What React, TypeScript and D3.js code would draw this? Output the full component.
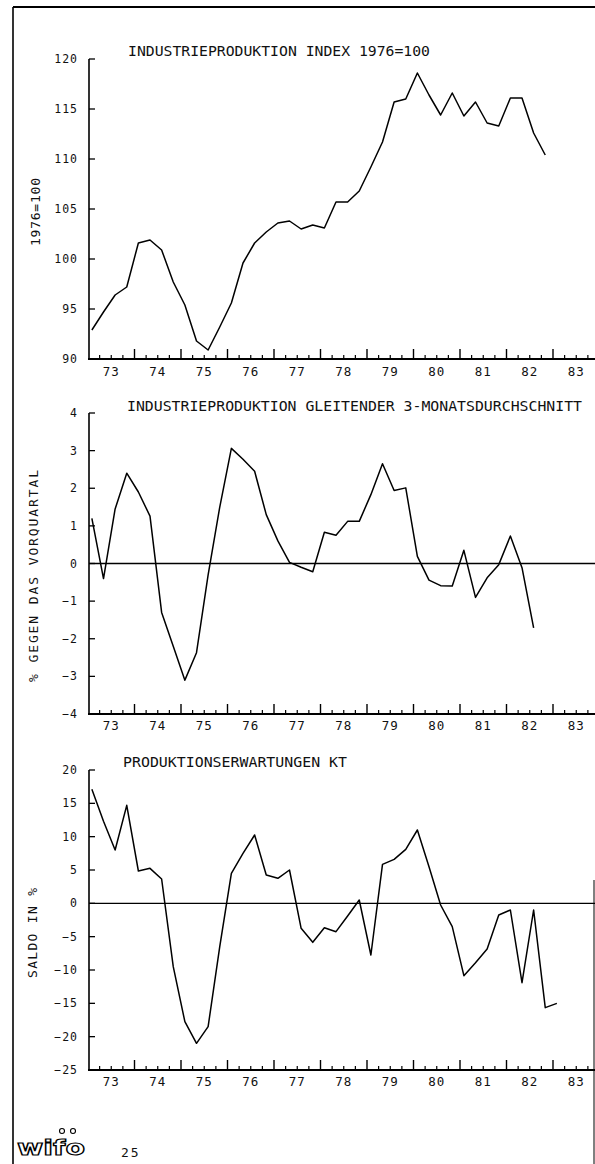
import React from "react";
import * as d3 from "d3";

// ---------- data ----------
const yearLabels = ["73", "74", "75", "76", "77", "78", "79", "80", "81", "82", "83"];

// Industrieproduktion Index 1976=100, quarterly from 1973 Q1
const indexValues = [
  92.9, 94.7, 96.4, 97.2, 101.6, 101.9, 100.9, 97.7, 95.4, 91.8,
  90.9, 93.2, 95.6, 99.6, 101.6, 102.7, 103.6, 103.8, 103.0, 103.4,
  103.1, 105.7, 105.7, 106.8, 109.2, 111.7, 115.7, 116.0, 118.6, 116.4,
  114.4, 116.6, 114.3, 115.7, 113.6, 113.3, 116.1, 116.1, 112.6, 110.4,
];

// gleitender 3-Monatsdurchschnitt, % gegen Vorquartal
const changeValues = [
  1.2, -0.4, 1.45, 2.4, 1.9, 1.26, -1.3, -2.2, -3.1, -2.37,
  -0.3, 1.5, 3.06, 2.77, 2.45, 1.3, 0.6, 0.03, -0.1, -0.22,
  0.83, 0.75, 1.12, 1.12, 1.83, 2.65, 1.94, 2.01, 0.19, -0.44,
  -0.59, -0.6, 0.35, -0.9, -0.38, -0.03, 0.73, -0.11, -1.71,
];

// Produktionserwartungen KT, Saldo in %
const expectValues = [
  17.1, 12.3, 8.0, 14.7, 4.85, 5.25, 3.65, -9.5, -17.75, -21.0,
  -18.5, -6.5, 4.5, 7.5, 10.25, 4.25, 3.75, 5.0, -3.75, -5.85,
  -3.65, -4.25, -1.9, 0.5, -7.75, 5.85, 6.6, 8.1, 11.0, 5.5,
  -0.25, -3.5, -10.85, -8.9, -6.85, -1.75, -1.0, -11.9, -1.0, -15.65,
  -15.0,
];

const indexTicks = [90, 95, 100, 105, 110, 115, 120];
const changeTicks = [-4, -3, -2, -1, 0, 1, 2, 3, 4];
const expectTicks = [-25, -20, -15, -10, -5, 0, 5, 10, 15, 20];

// ---------- layout ----------
const W = 595;
const H = 1164;
const FONT = "'DejaVu Sans Mono', 'Liberation Mono', monospace";
const AXIS_X = 89;
const RIGHT = 595;
const startYear = 1973;

const x = d3.scaleLinear().domain([startYear, startYear + 11]).range([88, 599.5]);

type PanelProps = {
  values: number[];
  ticks: number[];
  domain: [number, number];
  range: [number, number];
  title: string;
  titleX: number;
  titleX2: number;
  titleY: number;
  ylabel: string;
  ylabelX: number;
  ylabelY: number;
  ylabelLen: number;
  xLabelY: number;
  zeroLine: boolean;
};

function Panel(p: PanelProps) {
  const y = d3.scaleLinear().domain(p.domain).range(p.range);
  const bottom = p.range[0];
  const top = p.range[1];
  const line = d3
    .line<number>()
    .x((_, i) => x(startYear + (3 * i + 1) / 12))
    .y((v) => y(v));

  const yearTicks = d3.range(1, 11).map((k) => startYear + k);
  const quarterTicks = d3
    .range(1, 44)
    .filter((k) => k % 4 !== 0)
    .map((k) => startYear + k / 4);

  return (
    <g>
      <text
        x={p.titleX}
        y={p.titleY}
        fontFamily={FONT}
        fontSize={14.5}
        textLength={p.titleX2 - p.titleX}
        lengthAdjust="spacingAndGlyphs"
        fill="#111"
      >
        {p.title}
      </text>
      <text
        transform={`translate(${p.ylabelX},${p.ylabelY}) rotate(-90)`}
        textAnchor="middle"
        fontFamily={FONT}
        fontSize={13}
        textLength={p.ylabelLen}
        lengthAdjust="spacing"
        fill="#111"
      >
        {p.ylabel}
      </text>
      {/* y axis */}
      <line x1={AXIS_X} x2={AXIS_X} y1={top} y2={bottom} stroke="#000" strokeWidth={1.6} />
      {p.ticks.map((t) => (
        <g key={t}>
          <line x1={AXIS_X} x2={AXIS_X + 6} y1={y(t)} y2={y(t)} stroke="#000" strokeWidth={1.3} />
          <text
            x={78}
            y={y(t) + 4}
            textAnchor="end"
            fontFamily={FONT}
            fontSize={11.5}
            letterSpacing={1}
            fill="#111"
          >
            {t < 0 ? "\u2212" + Math.abs(t) : String(t)}
          </text>
        </g>
      ))}
      {/* zero line */}
      {p.zeroLine && (
        <line x1={AXIS_X} x2={RIGHT} y1={y(0)} y2={y(0)} stroke="#000" strokeWidth={1.3} />
      )}
      {/* x axis */}
      <line x1={88} x2={RIGHT} y1={bottom} y2={bottom} stroke="#000" strokeWidth={2} />
      {yearTicks.map((t) => (
        <line key={"y" + t} x1={x(t)} x2={x(t)} y1={bottom} y2={bottom - 10} stroke="#000" strokeWidth={1.4} />
      ))}
      {quarterTicks.map((t) => (
        <line key={"q" + t} x1={x(t)} x2={x(t)} y1={bottom} y2={bottom - 4} stroke="#000" strokeWidth={1.2} />
      ))}
      {yearLabels.map((l, i) => (
        <text
          key={l}
          x={x(startYear + i + 0.5)}
          y={p.xLabelY}
          textAnchor="middle"
          fontFamily={FONT}
          fontSize={12.5}
          letterSpacing={1}
          fill="#111"
        >
          {l}
        </text>
      ))}
      {/* data line */}
      <path d={line(p.values) || ""} fill="none" stroke="#000" strokeWidth={1.5} strokeLinejoin="round" />
    </g>
  );
}

export default function App() {
  return (
    <svg
      width={W}
      height={H}
      viewBox={`0 0 ${W} ${H}`}
      style={{ position: "absolute", left: 0, top: 0, display: "block", background: "#fff" }}
    >
      <rect x={0} y={0} width={W} height={H} fill="#fff" />
      {/* page frame */}
      <line x1={13} x2={595} y1={7} y2={7} stroke="#000" strokeWidth={2} />
      <line x1={13} x2={13} y1={7} y2={H} stroke="#000" strokeWidth={1.6} />
      <line x1={594} x2={594} y1={880} y2={H} stroke="#000" strokeWidth={1} />

      <Panel
        values={indexValues}
        ticks={indexTicks}
        domain={[90, 120]}
        range={[359, 59]}
        title="INDUSTRIEPRODUKTION INDEX 1976=100"
        titleX={128}
        titleX2={430}
        titleY={56}
        ylabel="1976=100"
        ylabelX={40}
        ylabelY={212}
        ylabelLen={68}
        xLabelY={376}
        zeroLine={false}
      />
      <Panel
        values={changeValues}
        ticks={changeTicks}
        domain={[-4, 4]}
        range={[714, 413]}
        title="INDUSTRIEPRODUKTION GLEITENDER 3-MONATSDURCHSCHNITT"
        titleX={127}
        titleX2={582}
        titleY={411}
        ylabel="% GEGEN DAS VORQUARTAL"
        ylabelX={38}
        ylabelY={576}
        ylabelLen={212}
        xLabelY={730}
        zeroLine={true}
      />
      <Panel
        values={expectValues}
        ticks={expectTicks}
        domain={[-25, 20]}
        range={[1070, 770]}
        title="PRODUKTIONSERWARTUNGEN KT"
        titleX={123}
        titleX2={347}
        titleY={767}
        ylabel="SALDO IN %"
        ylabelX={37}
        ylabelY={933}
        ylabelLen={90}
        xLabelY={1086}
        zeroLine={true}
      />

      {/* logo and page number */}
      <text
        x={17}
        y={1155}
        fontFamily="'DejaVu Sans', sans-serif"
        fontWeight="bold"
        fontSize={22}
        textLength={68}
        lengthAdjust="spacingAndGlyphs"
        fill="#fff"
        stroke="#000"
        strokeWidth={1.2}
      >
        wifo
      </text>
      <circle cx={62} cy={1131} r={2.5} fill="#fff" stroke="#000" strokeWidth={1.1} />
      <circle cx={73} cy={1131} r={2.5} fill="#fff" stroke="#000" strokeWidth={1.1} />
      <text x={121} y={1157} fontFamily={FONT} fontSize={13} letterSpacing={2} fill="#111">
        25
      </text>
    </svg>
  );
}
